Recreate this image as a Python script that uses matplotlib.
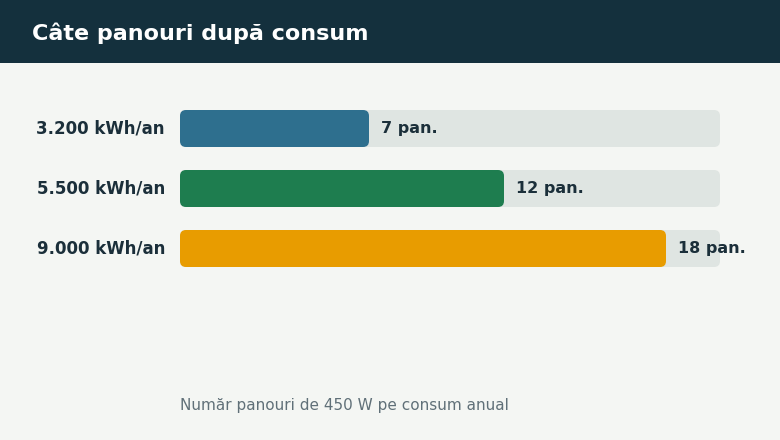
import matplotlib
matplotlib.use("Agg")
import matplotlib.pyplot as plt
from matplotlib.patches import FancyBboxPatch, Rectangle

plt.rcParams["font.family"] = ["DejaVu Sans"]

# Date
consum = ["3.200 kWh/an", "5.500 kWh/an", "9.000 kWh/an"]
panouri = [7, 12, 18]
culori = ["#2e6f8e", "#1e7d4f", "#e89c00"]
maxim = 20

W, H = 780, 440
fig = plt.figure(figsize=(W / 100, H / 100), dpi=100)
fig.patch.set_facecolor("#f4f6f3")

# Bandă de titlu
fig.patches.append(Rectangle((0, 1 - 63 / H), 1, 63 / H, transform=fig.transFigure,
                             facecolor="#14303d", edgecolor="none", zorder=0))
fig.text(32 / W, 1 - 33 / H, "Câte panouri după consum", color="white",
         fontsize=16, fontweight="bold", va="center", ha="left")

# Axa pentru bare: x 180..720 px, rânduri la 60 px
ax = fig.add_axes([180 / W, 1 - 278.5 / H, 540 / W, 180 / H])
ax.set_xlim(0, maxim)
ax.set_ylim(len(consum) - 0.5, -0.5)
ax.axis("off")
ax.patch.set_alpha(0)

h = 37 / 60
aspect = (540 / maxim) / 60
r = 6 / (540 / maxim)
for i, (lab, n, c) in enumerate(zip(consum, panouri, culori)):
    ax.add_patch(FancyBboxPatch((0, i - h / 2), maxim, h,
                                boxstyle=f"round,pad=0,rounding_size={r}",
                                mutation_aspect=aspect, facecolor="#dfe5e2",
                                edgecolor="none", zorder=1))
    ax.add_patch(FancyBboxPatch((0, i - h / 2), n, h,
                                boxstyle=f"round,pad=0,rounding_size={r}",
                                mutation_aspect=aspect, facecolor=c,
                                edgecolor="none", zorder=2))
    ax.annotate(f"{n} pan.", (n, i), xytext=(12 * 0.72, 0), textcoords="offset points",
                va="center", ha="left", fontsize=11.5, fontweight="bold",
                color="#1b2f3a", zorder=3, annotation_clip=False)
    ax.annotate(lab, (0, i), xytext=(-15 * 0.72, 0), textcoords="offset points",
                va="center", ha="right", fontsize=12, fontweight="bold",
                color="#1b2f3a", annotation_clip=False)

fig.text(180 / W, 1 - 405 / H, "Număr panouri de 450 W pe consum anual",
         color="#607078", fontsize=11, va="center", ha="left")

fig.savefig("out.png", dpi=100, facecolor=fig.get_facecolor())
